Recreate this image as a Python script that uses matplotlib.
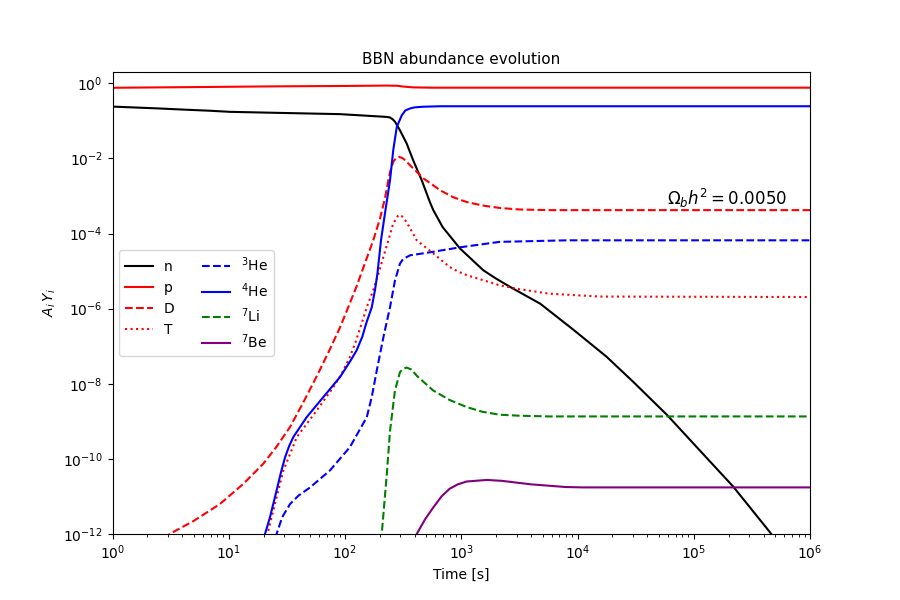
import matplotlib
import matplotlib.pyplot as plt

matplotlib.use("agg")

# values (time in s, abundance A_i Y_i)
t_n = [1, 2.5, 4, 6.9, 10.2, 25, 90.6, 214, 229, 244, 257, 269, 297, 339, 386,
       457, 537, 575, 692, 977, 1549, 1995, 2630, 4786, 9120, 17780, 30200,
       58880, 114800, 218800, 457000, 631000]
y_n = [0.24, 0.214, 0.2, 0.186, 0.174, 0.164, 0.151, 0.129, 0.127, 0.123, 0.11,
       0.0955, 0.056, 0.0251, 8.9e-3, 2.63e-3, 6.9e-4, 4.2e-4, 1.48e-4, 3.98e-5,
       1.05e-5, 6.3e-6, 3.8e-6, 1.35e-6, 2.82e-7, 5.25e-8, 1.12e-8, 1.48e-9,
       1.58e-10, 1.82e-11, 1.07e-12, 2.8e-13]

t_p = [1, 6.9, 25.8, 100, 230, 280, 316, 385, 537, 1e6]
y_p = [0.76, 0.80, 0.83, 0.85, 0.87, 0.86, 0.82, 0.78, 0.765, 0.765]

t_D = [2.5, 3.1, 5.0, 8.4, 13.3, 19.8, 25.7, 33.7, 43.7, 57.1, 72.4, 90.6, 107,
       126, 148, 175, 200, 221, 236, 245, 260, 275, 292, 316, 339, 414, 472,
       661, 851, 1114, 1514, 2138, 3162, 5754, 1e6]
y_D = [4e-13, 1e-12, 2.24e-12, 6.3e-12, 2.14e-11, 7.4e-11, 2.09e-10, 7.1e-10,
       3.16e-9, 1.58e-8, 7.1e-8, 3.16e-7, 1.12e-6, 3.98e-6, 1.58e-5, 6.6e-5,
       2.5e-4, 8.9e-4, 2.63e-3, 4.5e-3, 8.1e-3, 0.0102, 0.011, 0.010, 8.1e-3,
       4.4e-3, 2.95e-3, 1.41e-3, 9.3e-4, 6.9e-4, 5.6e-4, 4.8e-4, 4.37e-4,
       4.2e-4, 4.2e-4]

t_T = [20.4, 21.9, 25.8, 29.5, 38.5, 57.1, 79.4, 93, 110, 123, 139, 154, 175,
       194, 214, 236, 260, 288, 309, 339, 414, 575, 794, 933, 1114, 2138, 3162,
       5754, 15500, 1e6]
y_T = [3.2e-13, 1.23e-12, 9.5e-12, 4.9e-11, 3.8e-10, 1.95e-9, 8.1e-9, 1.78e-8,
       5.1e-8, 1.26e-7, 4e-7, 1.1e-6, 3.1e-6, 8.5e-6, 2.4e-5, 6.6e-5, 1.86e-4,
       3.1e-4, 2.9e-4, 2e-4, 6.6e-5, 2.95e-5, 1.29e-5, 9.8e-6, 7.8e-6, 4.2e-6,
       3.3e-6, 2.5e-6, 2.1e-6, 2.04e-6]

t_He3 = [24.5, 25.8, 28.8, 33.7, 39.8, 50.1, 74.1, 110, 154, 170, 187.5, 216,
         244, 269, 297, 316, 363, 537, 977, 2138, 8128, 1e6]
y_He3 = [4e-13, 1e-12, 2.8e-12, 6.3e-12, 1.05e-11, 1.74e-11, 4.9e-11, 2.04e-10,
         1.29e-9, 4.5e-9, 2.24e-8, 2e-7, 1.1e-6, 5.6e-6, 1.58e-5, 2.1e-5,
         2.63e-5, 3.16e-5, 4.3e-5, 6e-5, 6.6e-5, 6.6e-5]

t_He4 = [19.5, 20.5, 22.6, 25.8, 28.2, 30.5, 33.1, 35.9, 46.8, 65, 90.6, 112,
         126, 141, 152, 170, 181, 190, 197, 204, 221, 244, 260, 279, 308, 331,
         363, 398, 472, 661, 1e6]
y_He4 = [3.2e-13, 1e-12, 2.75e-12, 1.45e-11, 4.5e-11, 1.1e-10, 2.2e-10, 3.8e-10,
         1.29e-9, 4.4e-9, 1.51e-8, 4.2e-8, 7.8e-8, 1.8e-7, 4e-7, 1.1e-6, 3.1e-6,
         8.5e-6, 2.4e-5, 6.6e-5, 3.55e-4, 2.63e-3, 0.0166, 0.069, 0.141, 0.19,
         0.214, 0.229, 0.238, 0.245, 0.245]

t_Li7 = [200, 207, 229, 244, 269, 297, 316, 339, 372, 417, 575, 794, 1114, 1514,
         2138, 3162, 5754, 1e6]
y_Li7 = [3.2e-13, 1e-12, 4e-11, 5.6e-10, 6.6e-9, 2.04e-8, 2.5e-8, 2.7e-8,
         2.4e-8, 1.6e-8, 6.6e-9, 3.7e-9, 2.4e-9, 1.8e-9, 1.5e-9, 1.41e-9,
         1.35e-9, 1.35e-9]

t_Be7 = [398, 414, 490, 575, 676, 794, 933, 1114, 1660, 2239, 3981, 7943, 11220, 1e6]
y_Be7 = [3.2e-13, 1e-12, 2.5e-12, 5.1e-12, 1e-11, 1.6e-11, 2.1e-11, 2.5e-11,
         2.75e-11, 2.6e-11, 2.1e-11, 1.78e-11, 1.74e-11, 1.74e-11]

omega_b_h2 = 0.005

series = [
    ("n", t_n, y_n, "k", "-"),
    ("p", t_p, y_p, "r", "-"),
    ("D", t_D, y_D, "r", "--"),
    ("T", t_T, y_T, "r", ":"),
    (r"$^3$He", t_He3, y_He3, "b", "--"),
    (r"$^4$He", t_He4, y_He4, "b", "-"),
    (r"$^7$Li", t_Li7, y_Li7, "g", "--"),
    (r"$^7$Be", t_Be7, y_Be7, "purple", "-"),
]

fig, ax = plt.subplots(figsize=(9, 6), dpi=100)

for label, t, y, color, ls in series:
    ax.loglog(t, y, color=color, linestyle=ls, label=label)

ax.set_xlim(1, 1e6)
ax.set_ylim(1e-12, 2)
ax.set_xlabel("Time [s]")
ax.set_ylabel(r"$A_i\,Y_i$")
ax.set_title("BBN abundance evolution", fontsize=11)

ax.text(6.3e5, y_D[-1], r"$\Omega_b h^2 = %.4f$" % omega_b_h2,
        ha="right", va="bottom", fontsize=12)

ax.legend(loc="center left", ncol=2)

fig.savefig("out.png", dpi=100)
plt.close(fig)
